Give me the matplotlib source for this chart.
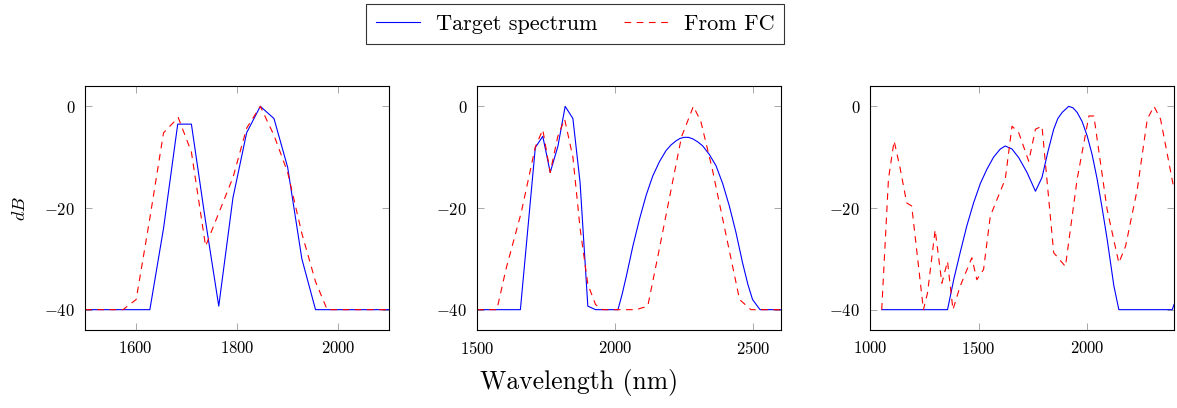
import matplotlib
matplotlib.use("Agg")
import matplotlib.pyplot as plt
from matplotlib.lines import Line2D

plt.rcParams['font.family'] = 'serif'
plt.rcParams['font.serif'] = ['cmr10']
plt.rcParams['mathtext.fontset'] = 'cm'
plt.rcParams['axes.formatter.use_mathtext'] = True
plt.rcParams['axes.unicode_minus'] = True

# panel 1
wl1_target = [1500, 1628, 1655, 1683, 1710, 1737, 1764, 1792, 1819, 1846, 1873, 1900, 1928, 1955, 2100]
db1_target = [-40, -40, -24, -3.5, -3.5, -22, -39.3, -18, -5.2, 0, -2.4, -12, -30, -40, -40]
wl1_fc = [1500, 1575, 1601, 1628, 1655, 1684, 1710, 1738, 1764, 1792, 1819, 1846, 1873, 1900, 1928, 1955, 1978, 2100]
db1_fc = [-40, -40, -38, -22, -5.2, -2.2, -9, -27.5, -21, -14, -4.3, 0, -5.7, -13, -25, -34.5, -40, -40]

# panel 2
wl2_target = [1500, 1657, 1711, 1738, 1765, 1793, 1819, 1847, 1873, 1901, 1929, 2010, 2025, 2040, 2064, 2088,
              2112, 2136, 2160, 2184, 2202, 2220, 2235, 2250, 2265, 2281, 2299, 2317, 2341, 2365, 2389,
              2413, 2437, 2461, 2480, 2497, 2524, 2600]
db2_target = [-40, -40, -8.1, -5.9, -13, -7.8, 0, -2.4, -15, -39.3, -40, -40, -37, -33.5, -27.5, -22.2,
              -17.5, -13.7, -10.9, -8.7, -7.6, -6.8, -6.3, -6.1, -6.1, -6.4, -7.0, -7.8, -9.5, -11.7, -15.2,
              -19.6, -24.8, -30.8, -35, -38, -40, -40]
wl2_fc = [1500, 1572, 1605, 1660, 1711, 1738, 1765, 1792, 1817, 1847, 1873, 1901, 1929, 1955, 2076, 2118,
          2160, 2200, 2240, 2283, 2310, 2350, 2400, 2450, 2491, 2600]
db2_fc = [-40, -40, -32, -20.9, -8, -4.6, -13, -6, -2.5, -10, -24, -35, -39, -40, -40, -39.3,
          -28, -17, -6, 0, -3, -12, -25, -38, -40, -40]

# panel 3
wl3_target = [1054, 1357, 1386, 1415, 1446, 1477, 1508, 1538, 1569, 1600, 1623, 1654, 1685, 1723, 1762, 1792,
              1820, 1846, 1865, 1885, 1915, 1935, 1954, 1977, 2000, 2023, 2046, 2069, 2092, 2123, 2146, 2392, 2400]
db3_target = [-40, -40, -34, -28.8, -23.5, -19, -15.2, -12.4, -10, -8.4, -7.8, -8.4, -10.1, -13, -16.7, -14,
              -8.8, -4.5, -2.4, -1.2, 0, -0.3, -1.2, -3, -5.8, -9.5, -14.3, -20, -26.1, -35.3, -40, -40, -39]
wl3_fc = [1054, 1085, 1111, 1138, 1169, 1192, 1246, 1265, 1300, 1331, 1357, 1382, 1415, 1469, 1492, 1523,
          1554, 1623, 1654, 1685, 1731, 1762, 1792, 1846, 1900, 1954, 2008, 2031, 2092, 2146, 2177, 2231,
          2277, 2308, 2338, 2400]
db3_fc = [-40, -14.3, -6.8, -12, -19, -19.6, -40, -36.7, -24.3, -34.8, -30.5, -40, -35.4, -29.8, -34.1, -32.1,
          -21.6, -14.3, -3.9, -5.2, -10.8, -4.5, -3.9, -28.8, -31.5, -14.3, -1.9, -1.9, -20.3, -30.8, -27.5, -16.3,
          -2.5, 0, -2.5, -16.3]

panels = [
    (wl1_target, db1_target, wl1_fc, db1_fc, (1500, 2100), [1600, 1800, 2000]),
    (wl2_target, db2_target, wl2_fc, db2_fc, (1500, 2600), [1500, 2000, 2500]),
    (wl3_target, db3_target, wl3_fc, db3_fc, (1000, 2400), [1000, 1500, 2000]),
]

fig = plt.figure(figsize=(11.77, 4.08), dpi=100)
lefts = [85 / 1177, 477 / 1177, 870 / 1177]
for i, (xt, yt, xf, yf, xlim, xticks) in enumerate(panels):
    ax = fig.add_axes([lefts[i], 78 / 408, 304 / 1177, 244 / 408])
    ax.plot(xt, yt, color='blue', lw=0.8)
    ax.plot(xf, yf, color='red', lw=0.8, dashes=(6, 5))
    ax.set_xlim(*xlim)
    ax.set_ylim(-44, 4)
    ax.set_xticks(xticks)
    ax.set_yticks([-40, -20, 0])
    ax.tick_params(direction='in', length=5, width=0.6, color='#999999',
                   top=True, right=True, labelsize=12, pad=7)
    for s in ax.spines.values():
        s.set_linewidth(0.8)
    if i == 0:
        ax.set_ylabel('$dB$', fontsize=13, labelpad=12)

fig.text(0.492, 0.03, 'Wavelength (nm)', ha='center', va='bottom', fontsize=18.5)

handles = [Line2D([], [], color='blue', lw=0.8), Line2D([], [], color='red', lw=0.8, dashes=(6, 5))]
leg = fig.legend(handles, ['Target spectrum', 'From FC'], loc='center', bbox_to_anchor=(575 / 1177, 1 - 24 / 408),
                 ncol=2, fontsize=16, frameon=True, fancybox=False, edgecolor='black',
                 handlelength=2.0, columnspacing=1.2, borderpad=0.45, handletextpad=0.7)
leg.get_frame().set_linewidth(0.8)

fig.savefig('out.png', dpi=100)
